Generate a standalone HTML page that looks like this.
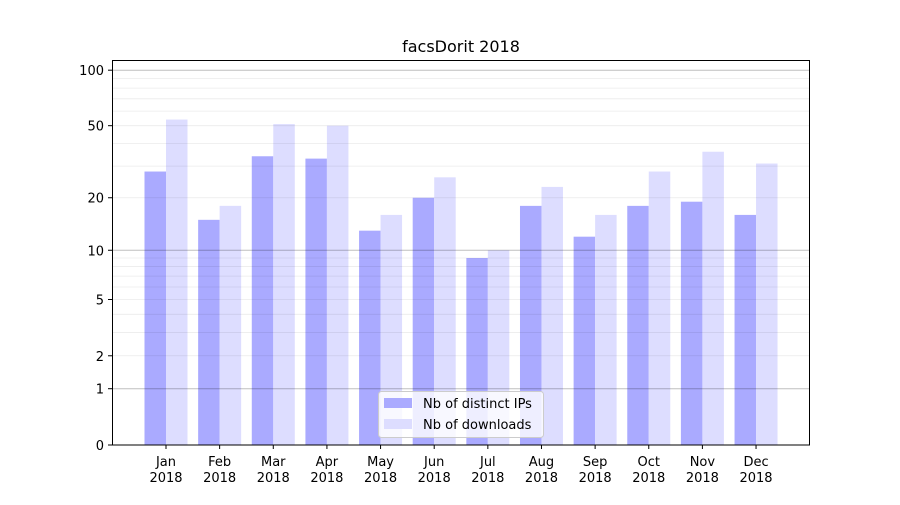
<!DOCTYPE html>
<html><head><meta charset="utf-8"><style>
body{margin:0;background:#fff}
svg text{font-family:"DejaVu Sans","Liberation Sans",sans-serif;fill:#000}
</style></head><body>
<svg width="900" height="500" xmlns="http://www.w3.org/2000/svg">
<rect width="900" height="500" fill="#fff"/>
<g id="bars"></g>
<g id="grid"></g>
<rect x="112.5" y="60.5" width="697" height="384.5" fill="none" stroke="#000" stroke-width="1"/>
<g id="ticks" font-size="13"></g>
<text x="461" y="52" font-size="16" text-anchor="middle">facsDorit 2018</text>
<g>
<rect x="378.5" y="391.5" width="165" height="46" rx="3" fill="#fff" fill-opacity="0.8" stroke="#ccc"/>
<rect x="384" y="398" width="28" height="10" fill="#aaaaff"/>
<rect x="384" y="419" width="28" height="10" fill="#ddddff"/>
<text x="423" y="408" font-size="13">Nb of distinct IPs</text>
<text x="423" y="429" font-size="13">Nb of downloads</text>
</g>
<script>
const ns="http://www.w3.org/2000/svg";
const Y=v=>445-187*Math.log10(1+v);
function el(p,t,a,txt){const e=document.createElementNS(ns,t);for(const k in a)e.setAttribute(k,a[k]);if(txt!==undefined)e.textContent=txt;document.getElementById(p).appendChild(e);return e;}
[2,3,4,5,6,7,8,9,20,30,40,50,60,70,80,90].forEach(v=>{const y=Y(v);el("grid","line",{x1:112,x2:810,y1:y,y2:y,stroke:"#000","stroke-opacity":0.08,"stroke-width":0.8});});
[1,10,100].forEach(v=>{const y=Y(v);el("grid","line",{x1:112,x2:810,y1:y,y2:y,stroke:"#000","stroke-opacity":0.25,"stroke-width":1});});
const ips=[28,15,34,33,13,20,9,18,12,18,19,16];
const dl=[54,18,51,50,16,26,10,23,16,28,36,31];
const m=["Jan","Feb","Mar","Apr","May","Jun","Jul","Aug","Sep","Oct","Nov","Dec"];
for(let i=0;i<12;i++){const c=166+i*53.64;
el("bars","rect",{x:c-21.5,y:Y(ips[i]),width:21.5,height:445-Y(ips[i]),fill:"#aaaaff"});
el("bars","rect",{x:c,y:Y(dl[i]),width:21.5,height:445-Y(dl[i]),fill:"#ddddff"});
el("ticks","line",{x1:c,x2:c,y1:445,y2:449,stroke:"#000"});
el("ticks","text",{x:c,y:466,"text-anchor":"middle"},m[i]);
el("ticks","text",{x:c,y:482,"text-anchor":"middle"},"2018");}
[0,1,2,5,10,20,50,100].forEach(v=>{const y=Y(v);el("ticks","line",{x1:108,x2:112,y1:y,y2:y,stroke:"#000"});
el("ticks","text",{x:104,y:y+5,"text-anchor":"end"},String(v));});
</script>
</svg>
</body></html>
